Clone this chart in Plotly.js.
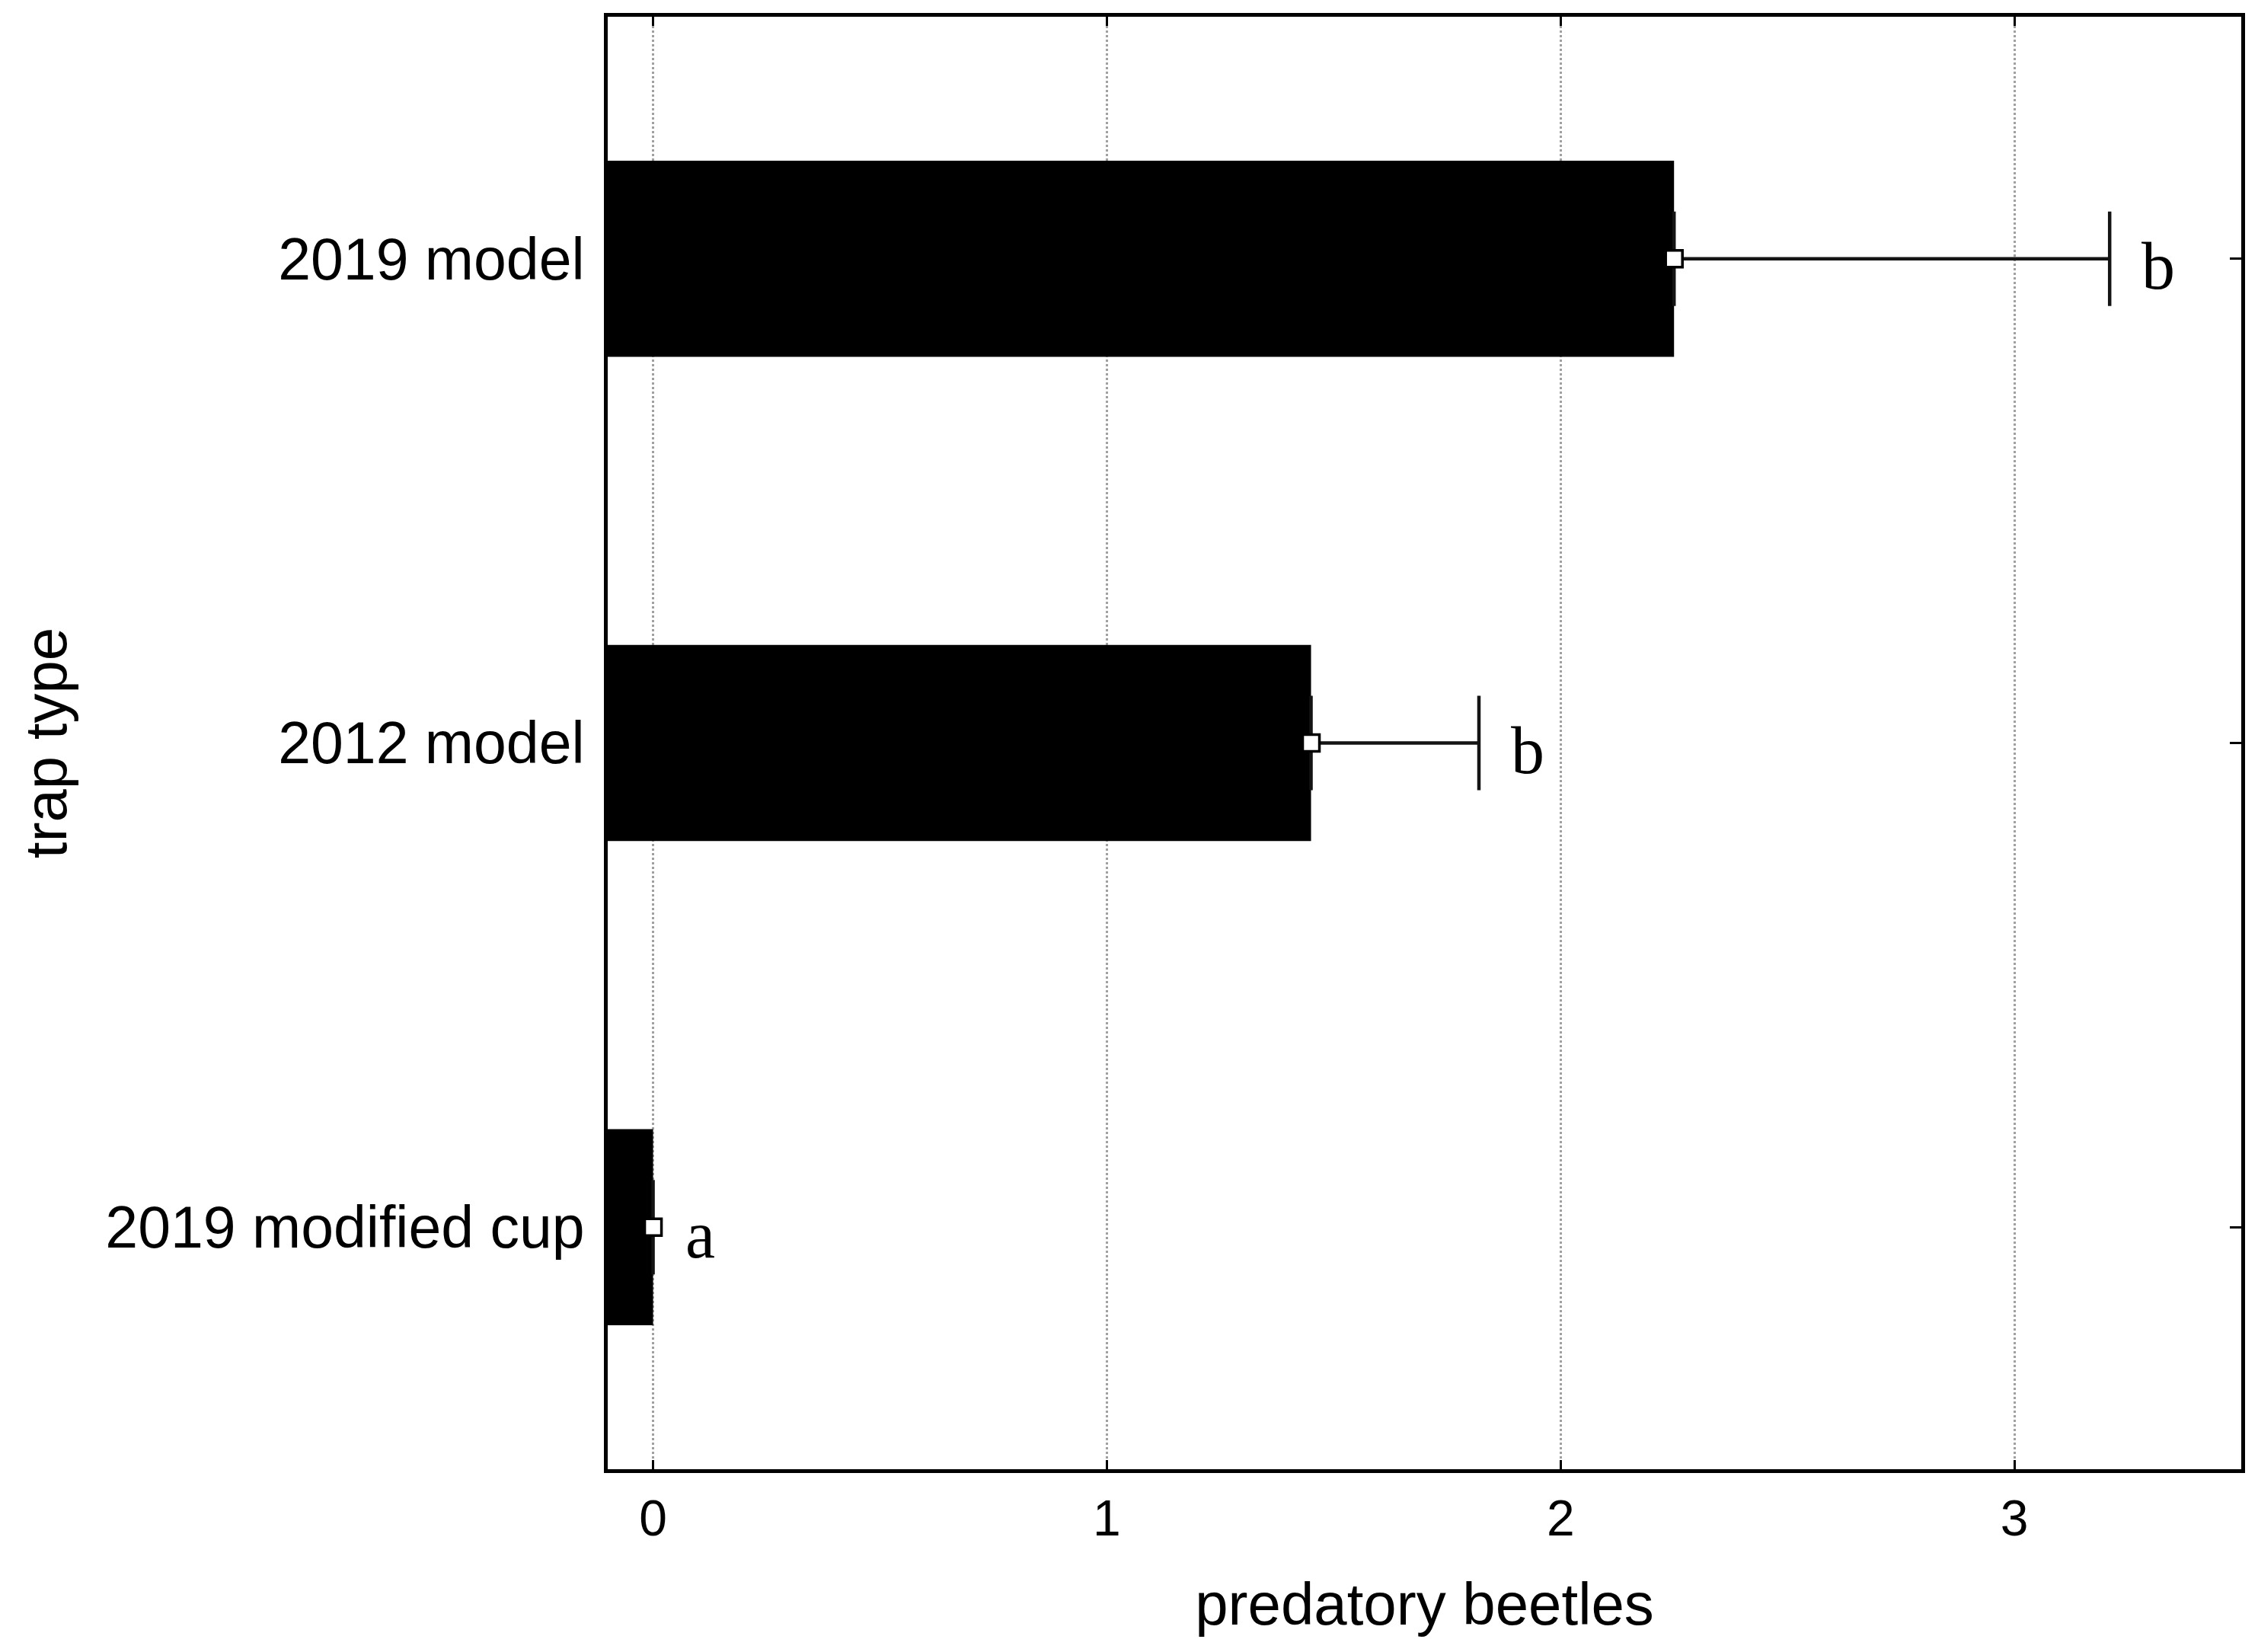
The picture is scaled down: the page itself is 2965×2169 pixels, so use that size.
<!DOCTYPE html>
<html>
<head>
<meta charset="utf-8">
<script src="https://cdn.plot.ly/plotly-3.0.1.min.js"></script>
<style>
  html, body { margin: 0; padding: 0; background: #ffffff; }
  #chart { width: 2965px; height: 2169px; }
</style>
</head>
<body>
<div id="chart"></div>
<script>
// ---- data ----
const categories = ["2019 modified cup", "2012 model", "2019 model"];
const meanValues = [0.0, 1.45, 2.25];
const errorPlus  = [0.0, 0.37, 0.96];
const groupLetters = ["a", "b", "b"];
const xTickValues = [0, 1, 2, 3];
const xTickLabels = ["0", "1", "2", "3"];
const axisMin = -0.1;
const axisMax = 3.5;

const sansFont = "'Liberation Sans', Arial, Helvetica, sans-serif";
const serifFont = "'Liberation Serif', 'Times New Roman', serif";

const barTrace = {
  type: "bar",
  orientation: "h",
  y: categories,
  x: meanValues.map(v => v - axisMin),
  base: axisMin,
  width: 0.405,
  marker: { color: "#000000", line: { width: 0 } },
  hoverinfo: "skip",
  showlegend: false
};

const pointTrace = {
  type: "scatter",
  mode: "markers",
  y: categories,
  x: meanValues,
  marker: { symbol: "square", size: 22, color: "#ffffff", line: { color: "#000000", width: 3.5 } },
  error_x: {
    type: "data",
    symmetric: false,
    array: errorPlus,
    arrayminus: errorPlus.map(() => 0),
    color: "#141414",
    thickness: 4.5,
    width: 62
  },
  hoverinfo: "skip",
  showlegend: false
};

const annotations = categories.map((c, i) => ({
  x: meanValues[i] + errorPlus[i],
  y: c,
  xref: "x",
  yref: "y",
  text: groupLetters[i],
  showarrow: false,
  xanchor: "left",
  yanchor: "middle",
  xshift: 40,
  yshift: -10,
  font: { family: serifFont, size: 88, color: "#000000" }
}));

const layout = {
  width: 2965,
  height: 2169,
  margin: { l: 798, r: 22, t: 22, b: 240, pad: 0 },
  paper_bgcolor: "#ffffff",
  plot_bgcolor: "#ffffff",
  showlegend: false,
  barmode: "overlay",
  xaxis: {
    range: [axisMin, axisMax],
    tickmode: "array",
    tickvals: xTickValues,
    ticktext: xTickLabels,
    ticks: "inside",
    ticklen: 12,
    tickwidth: 3,
    tickcolor: "#000000",
    showline: true,
    linewidth: 5,
    linecolor: "#000000",
    mirror: "ticks",
    showgrid: true,
    gridcolor: "#a0a0a0",
    gridwidth: 3,
    griddash: "dot",
    zeroline: false,
    tickfont: { family: sansFont, size: 66, color: "#000000" },
    ticklabelstandoff: 3,
    title: { text: "predatory beetles", font: { family: sansFont, size: 78, color: "#000000" }, standoff: 51 },
    automargin: false
  },
  yaxis: {
    type: "category",
    categoryorder: "array",
    categoryarray: categories,
    range: [-0.5, 2.5],
    ticks: "inside",
    ticklen: 15,
    tickwidth: 3,
    tickcolor: "#000000",
    showline: true,
    linewidth: 5,
    linecolor: "#000000",
    mirror: "ticks",
    showgrid: false,
    zeroline: false,
    tickfont: { family: sansFont, size: 77, color: "#000000" },
    ticklabelstandoff: 10,
    title: { text: "trap type", font: { family: sansFont, size: 78, color: "#000000" }, standoff: 27 },
    automargin: false
  },
  annotations: annotations
};

Plotly.newPlot("chart", [barTrace, pointTrace], layout, { staticPlot: true, displayModeBar: false });
</script>
</body>
</html>
